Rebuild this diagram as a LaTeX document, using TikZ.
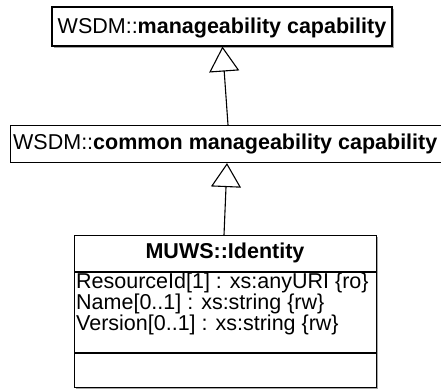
\documentclass[tikz,border=0pt]{standalone}
\usepackage{fontspec}
\setmainfont{Liberation Sans}
\usetikzlibrary{arrows.meta,calc}

\tikzset{
  umlbox/.style={draw=black, line width=1.1pt, fill=white, inner sep=0pt},
  shade box/.style={fill=black!35, draw=none},
  lbl/.style={inner sep=0pt, font=\fontsize{21.5}{24}\selectfont},
  attr/.style={inner sep=0pt, anchor=west, align=left, font=\fontsize{21.5}{19}\selectfont},
  gen/.style={line width=1.1pt, -{Triangle[open, length=#1, width=30pt, fill=white, line width=1.1pt]}},
  gen/.default=25pt
}

\begin{document}
\begin{tikzpicture}[x=1pt, y=-1pt]
  \useasboundingbox (0,0) rectangle (441,388);
  \clip (0,0) rectangle (441,388);

  % superclass: manageability capability
  \fill[shade box] (54,9) rectangle (394,48);
  \node[umlbox, minimum width=340pt, minimum height=39pt] (top) at (222,26.5) {};
  \node[lbl] (toplbl) at ($(top.center)+(0,1)$) {WSDM::\textbf{manageability capability}};

  % intermediate class: common manageability capability (runs past the right edge)
  \node[umlbox, minimum width=450pt, minimum height=37pt, anchor=north west] (mid) at (10,125) {};
  \node[lbl, anchor=west] (midlbl) at ($(mid.west)+(3,0)$) {WSDM::\textbf{common manageability capability}};

  % MUWS::Identity class with attribute compartment
  \fill[shade box] (76,237) rectangle (378,390);
  \node[umlbox, minimum width=302pt, minimum height=152pt, anchor=north west] (cls) at (74,235) {};
  \coordinate (sepA) at ($(cls.north west)+(0,37)$);
  \coordinate (sepB) at ($(cls.north west)+(0,118)$);
  \draw[line width=1.1pt] (sepA) -- ++(302,0);
  \draw[line width=1.1pt] (sepB) -- ++(302,0);
  \node[lbl, font=\fontsize{21.5}{24}\selectfont\bfseries] (clsname) at (225,253) {MUWS::Identity};
  \node[attr] (attrs) at (76,304) {ResourceId[1] : xs:anyURI \{ro\}\\
    Name[0..1] : xs:string \{rw\}\\
    Version[0..1] : xs:string \{rw\}};

  % generalisation arrows
  \draw[gen=25pt] ($(mid.north west)+(218,0)$) -- ($(top.south west)+(171,0)$);
  \draw[gen=24pt] ($(cls.north west)+(150,0)$) -- ($(mid.south west)+(217,0)$);
\end{tikzpicture}
\end{document}
